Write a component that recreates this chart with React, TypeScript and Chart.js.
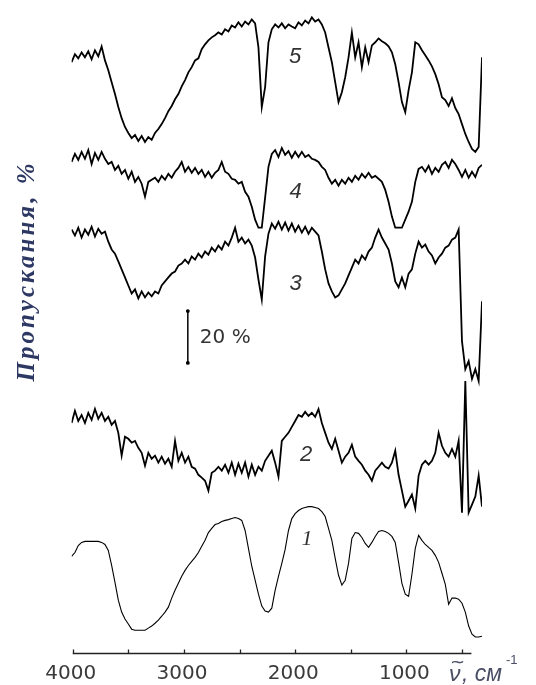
import React, { useEffect, useRef } from "react";
import { Chart, registerables } from "chart.js";

Chart.register(...registerables);

// Wavenumber grid (cm^-1), read left to right along the axis
const wavenumbers = [
  4010, 3980, 3950, 3920, 3890, 3860, 3830, 3800, 3770, 3740,
  3710, 3680, 3650, 3620, 3590, 3560, 3530, 3500, 3470, 3440,
  3410, 3380, 3350, 3320, 3290, 3260, 3230, 3200, 3170, 3140,
  3110, 3080, 3050, 3020, 2990, 2960, 2930, 2900, 2870, 2840,
  2810, 2780, 2750, 2720, 2690, 2660, 2630, 2600, 2570, 2540,
  2510, 2480, 2450, 2420, 2390, 2360, 2330, 2300, 2270, 2240,
  2210, 2180, 2150, 2120, 2090, 2060, 2030, 2000, 1970, 1940,
  1910, 1880, 1850, 1820, 1790, 1760, 1730, 1700, 1670, 1640,
  1610, 1580, 1550, 1520, 1490, 1460, 1430, 1400, 1370, 1340,
  1310, 1280, 1250, 1220, 1190, 1160, 1130, 1100, 1070, 1040,
  1010, 980, 950, 920, 890, 860, 830, 800, 770, 740,
  710, 680, 650, 620, 590, 560, 530, 500, 470, 440,
  410, 380, 350, 320,
];

// Transmittance (%, with vertical offsets between spectra)
const spectrum5 = [
  228.1, 231.2, 229.6, 231.9, 230.0, 232.3, 229.2, 232.7, 230.4, 234.2,
  228.8, 225.0, 220.4, 215.8, 210.8, 206.5, 203.1, 200.8, 198.8, 200.0,
  197.7, 199.6, 197.3, 199.2, 198.1, 200.8, 202.3, 204.2, 206.5, 209.2,
  211.2, 213.8, 215.8, 218.8, 221.2, 224.2, 226.2, 228.8, 229.6, 233.1,
  235.0, 236.5, 237.7, 238.5, 239.6, 238.8, 240.8, 240.0, 242.3, 241.5,
  243.5, 241.9, 243.8, 242.7, 244.6, 243.1, 233.8, 210.8, 218.5, 235.8,
  240.8, 242.7, 241.5, 243.1, 241.2, 242.7, 241.9, 241.2, 243.5, 242.3,
  244.2, 243.1, 245.4, 243.8, 244.6, 242.7, 239.6, 233.8, 228.1, 220.4,
  212.7, 216.5, 222.3, 230.0, 239.6, 230.0, 235.8, 226.2, 233.8, 228.1,
  234.6, 235.8, 237.3, 236.2, 235.4, 234.2, 231.9, 227.3, 220.4, 212.7,
  208.8, 217.3, 224.2, 235.8, 235.0, 232.7, 230.8, 228.8, 226.5, 223.5,
  219.6, 214.6, 213.5, 211.2, 214.2, 210.4, 208.1, 204.2, 200.4, 197.3,
  194.6, 193.5, 195.4, 230.0,
];

const spectrum4 = [
  189.6, 192.7, 190.4, 193.5, 190.8, 194.2, 188.8, 193.1, 190.4, 193.5,
  190.8, 188.8, 189.6, 186.5, 188.1, 185.0, 186.5, 183.1, 185.8, 181.9,
  183.8, 181.2, 176.2, 181.9, 182.7, 183.5, 181.9, 184.2, 182.7, 185.0,
  183.5, 185.8, 187.3, 189.6, 185.8, 187.7, 185.4, 187.3, 185.0, 186.5,
  183.8, 185.8, 183.5, 185.4, 186.5, 189.6, 185.8, 185.0, 183.1, 182.7,
  181.2, 181.9, 178.1, 176.2, 172.3, 167.3, 164.2, 164.2, 175.8, 187.7,
  192.7, 194.2, 191.5, 195.0, 192.3, 193.8, 191.2, 193.5, 191.5, 193.5,
  191.5, 192.3, 190.8, 190.4, 189.6, 187.7, 186.5, 183.5, 181.2, 182.7,
  180.4, 182.7, 181.2, 183.5, 181.9, 184.2, 182.7, 185.0, 183.5, 185.4,
  183.5, 184.2, 183.1, 181.9, 178.8, 174.2, 168.5, 164.2, 164.2, 164.2,
  167.3, 170.4, 174.2, 181.9, 186.9, 187.7, 185.8, 188.1, 185.0, 187.3,
  185.8, 188.5, 189.6, 187.3, 190.4, 188.8, 186.5, 183.8, 186.5, 183.5,
  185.8, 183.8, 187.3, 188.5,
];

const spectrum3 = [
  163.5, 161.2, 164.2, 160.4, 163.5, 161.5, 164.6, 160.8, 163.8, 161.9,
  162.7, 158.8, 155.8, 154.2, 151.2, 148.1, 145.0, 141.9, 138.8, 140.4,
  136.9, 139.6, 137.3, 139.2, 137.7, 139.6, 138.8, 141.9, 143.5, 145.0,
  146.5, 147.3, 149.6, 150.4, 151.9, 150.4, 153.1, 151.9, 154.2, 152.7,
  155.0, 153.8, 156.5, 155.0, 157.3, 155.8, 158.8, 157.3, 160.4, 164.2,
  158.8, 160.4, 158.1, 159.6, 157.3, 152.7, 144.2, 136.5, 153.1, 161.9,
  165.8, 163.8, 166.5, 163.5, 166.2, 163.1, 165.8, 162.7, 165.0, 162.3,
  164.6, 161.9, 164.2, 162.7, 161.2, 155.0, 148.1, 142.7, 139.6, 137.3,
  138.1, 140.4, 142.7, 145.8, 148.8, 151.9, 150.4, 153.5, 151.9, 155.0,
  156.5, 160.4, 163.5, 160.4, 158.1, 155.8, 150.4, 143.5, 141.2, 145.0,
  141.2, 146.5, 148.1, 154.2, 158.8, 156.5, 157.7, 155.0, 153.5, 150.4,
  152.7, 154.2, 156.5, 157.3, 159.6, 160.4, 163.5, 120.4, 109.6, 112.7,
  105.8, 109.6, 105.0, 135.8,
];

const spectrum2 = [
  88.8, 93.5, 89.6, 91.9, 88.8, 92.7, 90.0, 94.2, 90.4, 92.7,
  89.6, 91.2, 88.1, 89.6, 85.0, 76.2, 83.5, 82.7, 81.2, 81.9,
  79.2, 77.3, 72.3, 77.3, 75.0, 76.2, 73.5, 75.8, 73.1, 75.0,
  71.9, 81.9, 74.2, 77.3, 73.5, 75.8, 71.9, 71.2, 68.8, 67.7,
  66.5, 62.7, 69.6, 70.4, 71.9, 70.4, 72.7, 69.6, 73.5, 68.8,
  73.1, 69.6, 73.5, 68.1, 72.7, 68.8, 71.9, 70.4, 74.2, 76.2,
  78.1, 73.5, 68.1, 81.9, 83.5, 85.0, 87.3, 89.6, 91.9, 91.2,
  93.1, 91.5, 92.7, 91.2, 94.2, 88.8, 85.0, 81.2, 78.8, 82.7,
  78.1, 73.5, 75.8, 77.3, 80.4, 75.8, 74.2, 72.7, 70.4, 68.8,
  66.5, 70.4, 71.9, 73.5, 71.9, 71.2, 73.5, 78.1, 68.8, 62.7,
  56.5, 58.8, 61.2, 55.8, 68.5, 72.7, 74.2, 72.7, 74.2, 77.3,
  85.0, 80.0, 77.3, 75.8, 78.8, 75.8, 81.9, 54.2, 105.0, 54.2,
  57.3, 60.4, 68.5, 56.5,
];

const spectrum1 = [
  37.3, 38.8, 41.5, 42.7, 43.1, 43.1, 43.1, 43.1, 43.1, 42.7,
  41.9, 39.6, 33.8, 27.3, 20.4, 15.8, 13.1, 11.2, 9.2, 8.8,
  8.8, 8.8, 8.8, 9.6, 10.4, 11.5, 12.7, 14.2, 15.8, 17.7,
  21.2, 24.2, 26.9, 29.6, 31.9, 33.8, 35.4, 36.9, 38.8, 41.2,
  43.5, 46.5, 48.1, 49.6, 50.0, 50.8, 51.2, 51.5, 51.9, 52.3,
  51.9, 51.2, 47.3, 40.4, 33.5, 28.1, 22.7, 18.1, 16.2, 15.8,
  17.3, 24.2, 29.6, 34.6, 40.0, 47.3, 51.9, 53.8, 55.0, 55.8,
  56.2, 56.5, 56.5, 56.2, 55.8, 54.6, 52.7, 48.1, 43.5, 36.5,
  30.0, 26.2, 28.1, 34.6, 44.2, 46.5, 46.2, 44.6, 42.3, 40.8,
  42.7, 45.0, 46.9, 47.3, 46.9, 46.2, 45.0, 42.7, 35.0, 26.9,
  22.7, 21.9, 30.4, 40.4, 45.4, 43.5, 41.9, 40.8, 39.6, 37.7,
  35.0, 30.8, 26.5, 18.8, 21.2, 21.2, 20.8, 19.2, 15.8, 10.4,
  7.3, 6.2, 6.2, 6.5,
];

// Scale bar: 20 % of transmittance
const scaleBarWavenumber = 2965;
const scaleBarFrom = 112;
const scaleBarTo = 132;
const scaleBarText = "20 %";

// Curve numbers and their anchor (wavenumber, transmittance)
const curveNames = ["1", "2", "3", "4", "5"];
const curveNameX = [1893, 1902, 1995, 1995, 2000];
const curveNameY = [43.8, 76.5, 142.7, 178, 230];

// Axis
const axisTicks = [4000, 3500, 3000, 2500, 2000, 1500, 1000, 500];
const axisLabels = [4000, 3000, 2000, 1000];
const axisFrom = 4000;
const axisTo = 415;
const yTitle = "Пропускання, %";

const series = [spectrum1, spectrum2, spectrum3, spectrum4, spectrum5];

export default function App() {
  const ref = useRef<HTMLCanvasElement | null>(null);

  useEffect(() => {
    if (!ref.current) return;

    const overlay = {
      id: "overlay",
      afterDraw(chart: any) {
        const { ctx, scales } = chart;
        const x = scales.x;
        const y = scales.y;
        ctx.save();
        // axis line with inward ticks
        const y0 = Math.round(y.getPixelForValue(0)) + 0.5;
        ctx.strokeStyle = "#222";
        ctx.lineWidth = 1.3;
        ctx.beginPath();
        ctx.moveTo(x.getPixelForValue(axisFrom), y0);
        ctx.lineTo(x.getPixelForValue(axisTo), y0);
        for (const t of axisTicks) {
          const px = Math.round(x.getPixelForValue(t)) + 0.5;
          ctx.moveTo(px, y0);
          ctx.lineTo(px, y0 - 4);
        }
        ctx.stroke();

        // tick labels
        ctx.fillStyle = "#3a3a3a";
        ctx.font = '20px "DejaVu Sans"';
        ctx.textAlign = "center";
        ctx.textBaseline = "middle";
        for (const t of axisLabels) {
          ctx.fillText(String(t), x.getPixelForValue(t) - 2, y0 + 20);
        }

        // curve numbers
        ctx.fillStyle = "#333";
        curveNames.forEach((n, i) => {
          ctx.font = n === "1" ? 'italic 22px "Liberation Serif"' : 'italic 22px "Liberation Sans"';
          ctx.fillText(n, x.getPixelForValue(curveNameX[i]), y.getPixelForValue(curveNameY[i]));
        });

        // scale bar text
        ctx.font = '20px "DejaVu Sans"';
        ctx.textAlign = "left";
        ctx.fillStyle = "#333";
        ctx.fillText(
          scaleBarText,
          x.getPixelForValue(scaleBarWavenumber) + 12,
          y.getPixelForValue((scaleBarFrom + scaleBarTo) / 2) + 1
        );

        // x-axis unit
        ctx.fillStyle = "#4a4f66";
        ctx.textBaseline = "alphabetic";
        ctx.font = 'italic 23px "Liberation Sans"';
        ctx.fillText("ν", 449, 681);
        ctx.font = '18px "DejaVu Sans"';
        ctx.fillText("~", 450, 668);
        ctx.font = 'italic 23px "Liberation Sans"';
        ctx.fillText(", см", 462, 681);
        ctx.font = '13px "Liberation Sans"';
        ctx.fillText("-1", 506, 664);

        // y title
        ctx.translate(28, 271);
        ctx.rotate(-Math.PI / 2);
        ctx.fillStyle = "#2e3963";
        ctx.font = 'italic bold 25px "Liberation Serif"';
        (ctx as any).letterSpacing = "3px";
        ctx.textAlign = "center";
        ctx.textBaseline = "middle";
        ctx.fillText(yTitle, 0, 0);
        ctx.restore();
      },
    };

    const datasets: any[] = series.map((s, k) => ({
      data: wavenumbers.map((w, i) => ({ x: w, y: s[i] })),
      borderColor: "#000",
      borderWidth: k === 0 ? 1.1 : 1.8,
      pointRadius: 0,
      tension: 0,
      fill: false,
    }));
    datasets.push({
      data: [
        { x: scaleBarWavenumber, y: scaleBarFrom },
        { x: scaleBarWavenumber, y: scaleBarTo },
      ],
      borderColor: "#000",
      backgroundColor: "#000",
      borderWidth: 1.5,
      pointRadius: 1.2,
      tension: 0,
    });

    const chart = new Chart(ref.current, {
      type: "line",
      data: { datasets },
      options: {
        responsive: false,
        animation: false,
        devicePixelRatio: 1,
        events: [],
        layout: { padding: { left: 71.6, right: 54, top: 3, bottom: 32 } },
        plugins: { legend: { display: false }, tooltip: { enabled: false } },
        scales: {
          x: {
            type: "linear",
            reverse: true,
            min: 320,
            max: 4010,
            offset: false,
            display: false,
          },
          y: {
            type: "linear",
            min: 0,
            max: 250,
            display: false,
          },
        },
      },
      plugins: [overlay],
    });
    return () => chart.destroy();
  }, []);

  return (
    <div style={{ position: "absolute", left: 0, top: 0, width: 536, height: 685, background: "#fff" }}>
      <canvas ref={ref} width={536} height={685} style={{ width: 536, height: 685, display: "block" }} />
    </div>
  );
}
